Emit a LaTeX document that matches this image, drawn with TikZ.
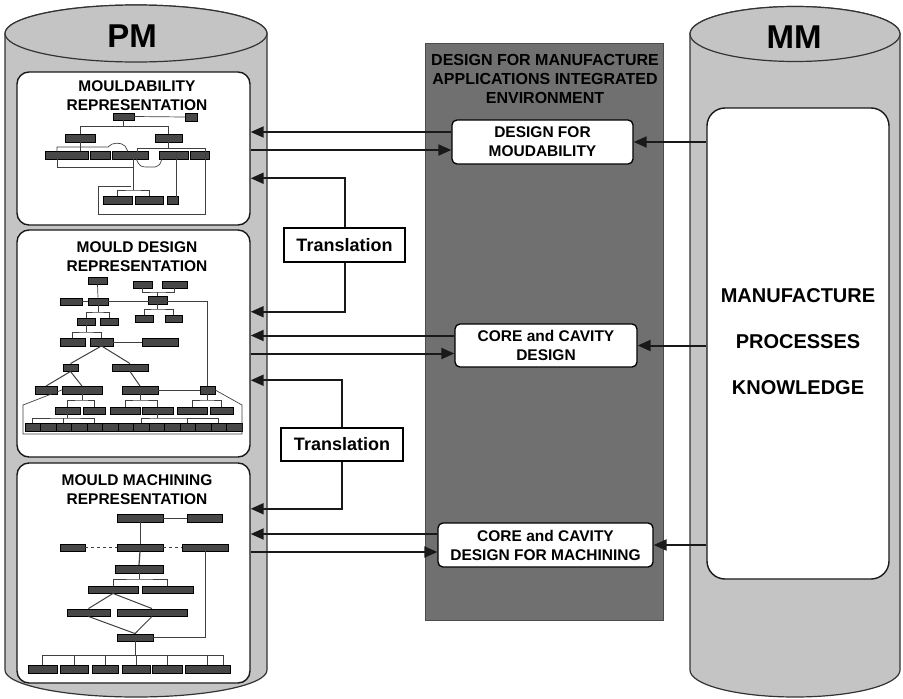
\documentclass[tikz,border=0pt]{standalone}
\usepackage{fontspec}
\setmainfont{Liberation Sans}
\usetikzlibrary{arrows.meta}
\definecolor{cylgray}{gray}{0.77}
\definecolor{panelgray}{gray}{0.44}
\newcommand\tbx[4]{\node[tb,minimum width=#4pt] (#1) at (#2,#3) {};}
\begin{document}
\begin{tikzpicture}[x=1pt,y=-1pt,
  cyl/.style={fill=cylgray,draw=black!80,line width=1.2pt},
  pmbox/.style={draw=black!90,fill=white,rounded corners=12pt,line width=1.4pt,inner sep=0pt},
  ttl/.style={font=\bfseries\fontsize{15.5}{19}\selectfont,align=center,inner sep=0pt},
  appbox/.style={draw=black,fill=white,rounded corners=5pt,line width=1.3pt,inner sep=0pt,font=\bfseries\fontsize{15.5}{19}\selectfont,align=center},
  trbox/.style={draw=black,fill=white,line width=1.5pt,inner sep=0pt,font=\bfseries\fontsize{18}{20}\selectfont},
  arr/.style={line width=2pt,draw=black!90,-{Triangle[length=13pt,width=11pt]}},
  tb/.style={fill=black!72,draw=black,line width=0.4pt,inner sep=0pt,minimum height=7.5pt},
  tl/.style={line width=0.7pt,draw=black!75},
]
\useasboundingbox[fill=white] (0,0) rectangle (903,699);

% ---------- PM cylinder ----------
\path[cyl] (5,33.5) -- (5,670) arc[start angle=180,end angle=360,x radius=131pt,y radius=27pt]
  -- (267,33.5) arc[start angle=0,end angle=180,x radius=131pt,y radius=28.5pt] -- cycle;
\draw[cyl] (136,33.5) ellipse[x radius=131pt,y radius=28.5pt];
\node[font=\bfseries\fontsize{33}{36}\selectfont,inner sep=0pt] (pm) at (132,36) {PM};

% ---------- MM cylinder ----------
\path[cyl] (690,34) -- (690,670) arc[start angle=180,end angle=360,x radius=105pt,y radius=27pt]
  -- (900,34) arc[start angle=0,end angle=180,x radius=105pt,y radius=27.5pt] -- cycle;
\draw[cyl] (795,34) ellipse[x radius=105pt,y radius=27.5pt];
\node[font=\bfseries\fontsize{33}{36}\selectfont,inner sep=0pt] (mm) at (794,37) {MM};
\node[draw=black!90,fill=white,rounded corners=18pt,line width=1.4pt,minimum width=182pt,minimum height=471pt,inner sep=0pt] (kb) at (798,343.5) {};
\node[font=\bfseries\fontsize{20}{46}\selectfont,align=center] (kbt) at (798,342) {MANUFACTURE\\PROCESSES\\KNOWLEDGE};

% ---------- central panel ----------
\node[fill=panelgray,draw=black!70,line width=0.8pt,minimum width=238pt,minimum height=577pt,inner sep=0pt] (panel) at (544,331.5) {};
\node[ttl,font=\bfseries\fontsize{16}{19}\selectfont] (ptitle) at (545,79) {DESIGN FOR MANUFACTURE\\APPLICATIONS INTEGRATED\\ENVIRONMENT};
\node[appbox,minimum width=181pt,minimum height=44pt] (dfm) at (542.5,142) {DESIGN FOR\\MOUDABILITY};
\node[appbox,minimum width=182pt,minimum height=43pt] (ccd) at (546,345.5) {CORE and CAVITY\\DESIGN};
\node[appbox,minimum width=215pt,minimum height=44pt] (ccm) at (545.5,545) {CORE and CAVITY\\DESIGN FOR MACHINING};

% ---------- PM boxes ----------
\node[pmbox,minimum width=233pt,minimum height=153pt] (mb) at (133.5,148.5) {};
\node[pmbox,minimum width=233pt,minimum height=227pt] (mdb) at (133.5,343.5) {};
\node[pmbox,minimum width=233pt,minimum height=220pt] (mmb) at (133.5,573) {};
\node[ttl] (mbt) at (137,95.5) {MOULDABILITY\\REPRESENTATION};
\node[ttl] (mdbt) at (137,257) {MOULD DESIGN\\REPRESENTATION};
\node[ttl] (mmbt) at (137,490) {MOULD MACHINING\\REPRESENTATION};

% ---------- mouldability tree ----------
\tbx{a0}{123.5}{116.5}{21}
\tbx{a1}{191}{117}{12}
\tbx{b1}{80}{138}{30}
\tbx{b2}{168.5}{138}{27}
\tbx{c1}{66.5}{155}{43}
\tbx{c2}{100}{155}{20}
\tbx{c3}{130}{155}{36}
\tbx{c4}{173.5}{155}{29}
\tbx{c5}{199.5}{155}{19}
\tbx{d1}{117.5}{200}{29}
\tbx{d2}{149}{200}{28}
\tbx{d3}{172.5}{200}{11}
\draw[tl] (a0.east) -- (a1.west);
\path (a0.south) ++(0,6) coordinate (aj);
\draw[tl] (b1.north) |- (aj) -| (b2.north);
\draw[tl] (a0.south) -- (aj);
\draw[tl] (b1.south) -- (b1.south |- c1.north);
\draw[tl] (57,151.5) -- (57,147) -- (108,147) .. controls (112,142) and (121,142) .. (125,146) -- (128,151.5);
\draw[tl] (57,158.5) -- (57,167) -- (133,167) -- (133,158.5);
\draw[tl] (136,158.5) .. controls (140,167) .. (150,167) -- (155,167) .. controls (160,165) .. (162,158.5);
\draw[tl] (b2.south) -- (168.5,148);
\draw[tl] (137,151.5) -- (137,148) -- (205,148) -- (205,214) -- (98,214) -- (98,186) -- (131,186);
\draw[tl] (176,151.5) -- (176,196.5);
\draw[tl] (133,158.5) -- (133,190);
\draw[tl] (d1.north) |- (133,190) -| (d2.north);

% ---------- mould design tree ----------
\tbx{ma}{97.5}{280.5}{19}
\tbx{mb1}{142.5}{284.5}{19}
\tbx{mb2}{174.5}{284.5}{25}
\tbx{mc0}{71}{301.5}{22}
\tbx{mc1}{98}{301.5}{20}
\tbx{mc2}{157.5}{300}{19}
\tbx{md1}{86}{321.5}{18}
\tbx{md2}{109}{321.5}{18}
\tbx{me1}{144}{318.5}{18}
\tbx{me2}{173.5}{318.5}{17}
\tbx{mf1}{72.5}{342}{25}
\tbx{mf2}{101.5}{342}{23}
\tbx{mf3}{160}{342}{36}
\tbx{mg1}{70.5}{367.5}{15}
\tbx{mg2}{130}{367.5}{36}
\tbx{mh1}{46}{390}{22}
\tbx{mh2}{82}{390}{40}
\tbx{mh3}{140}{390}{36}
\tbx{mh4}{207.5}{390}{15}
\tbx{mi1}{67.5}{410.5}{25}
\tbx{mi2}{94}{410.5}{22}
\tbx{mi3}{125}{410.5}{30}
\tbx{mi4}{157.5}{410.5}{31}
\tbx{mi5}{192}{410.5}{30}
\tbx{mi6}{221.5}{410.5}{23}
\foreach \i in {0,...,13} {\node[tb,minimum width=15.5pt,minimum height=8pt] (mr\i) at ({32.75+15.5*\i},427.5) {};}
\draw[tl] (ma.south) -- (mc1.north);
\draw[tl] (mc0.east) -- (mc1.west);
\draw[tl] (mc1.east) -| (mh4.north);
\draw[tl] (mb1.south) |- (157.5,292) -| (mb2.south);
\draw[tl] (mc2.north) -- (157.5,292);
\draw[tl] (mc1.south) -- (98,312);
\draw[tl] (md1.north) |- (98,312) -| (md2.north);
\draw[tl] (mc2.south) -- (157.5,309);
\draw[tl] (me1.north) |- (157.5,309) -| (me2.north);
\draw[tl] (md1.south) -- (86,332);
\draw[tl] (mf1.north) |- (86,332) -| (mf2.north);
\draw[tl] (mf2.east) -- (mf3.west);
\draw[tl,line width=1pt] (mf2.south) -- (mg1.north);
\draw[tl,line width=1pt] (mf2.south) -- (mg2.north);
\draw[tl,line width=1pt] (mg1.south) -- (mh1.north);
\draw[tl,line width=1pt] (mg1.south) -- (mh2.north);
\draw[tl,line width=1pt] (mg2.south) -- (mh3.north);
\draw[tl] (mh3.east) -- (mh4.west);
\draw[tl] (mh2.south) -- (82,400);
\draw[tl] (mi1.north) |- (82,400) -| (mi2.north);
\draw[tl] (mh3.south) -- (140,400);
\draw[tl] (mi3.north) |- (140,400) -| (mi4.north);
\draw[tl] (mh4.south) -- (207.5,400);
\draw[tl] (mi5.north) |- (207.5,400) -| (mi6.north);
\draw[tl] (mi1.south) -- (67.5,418);
\draw[tl] (mr0.north) |- (67.5,418) -| (mr4.north);
\draw[tl] (mr2.north) -- (mr2.north |- 0,418);
\draw[tl] (mi4.south) -- (157.5,418);
\draw[tl] (mr7.north) |- (157.5,418) -| (mr12.north);
\draw[tl] (mr10.north) -- (mr10.north |- 0,418);
\draw[tl] (mh2.west) -- (23,405) -- (23,434) -- (242,434) -- (242,405) -- (mh4.east);

% ---------- mould machining tree ----------
\tbx{n1}{140}{518}{46}
\tbx{n2}{204.5}{518}{35}
\tbx{n3}{72.5}{547.5}{25}
\tbx{n4}{140}{547.5}{46}
\tbx{n5}{205}{547.5}{46}
\tbx{n6}{139}{569}{48}
\tbx{n7}{113}{589.5}{50}
\tbx{n8}{167.5}{589.5}{51}
\tbx{n9}{88.5}{612.5}{43}
\tbx{n10}{152}{612.5}{70}
\tbx{n11}{135}{637.5}{36}
\tbx{q1}{42.5}{669}{29}
\tbx{q2}{74}{669}{28}
\tbx{q3}{105}{669}{26}
\tbx{q4}{136}{669}{28}
\tbx{q5}{167}{669}{30}
\tbx{q6}{207.5}{669}{45}
\draw[tl] (n1.east) -- (n2.west);
\draw[tl,line width=1pt] (n1.south) -- (n4.north);
\draw[tl,dashed] (n3.east) -- (n4.west);
\draw[tl,dashed] (n4.east) -- (n5.west);
\draw[tl,line width=1.2pt] (n4.south) -- (n6.north);
\draw[tl] (n6.south) -- (139,579);
\draw[tl] (n7.north) |- (139,579) -| (n8.north);
\draw[tl,line width=1pt] (n7.south) -- (n9.north);
\draw[tl,line width=1pt] (n7.south) -- (n10.north);
\draw[tl,line width=1pt] (n9.south) -- (n11.north);
\draw[tl,line width=1pt] (n10.south) -- (n11.north);
\draw[tl] (n11.east) -| (n5.south);
\draw[tl,line width=1pt] (n11.south) -- (135,655);
\draw[tl] (43,655) -- (223,655) -- (223,665);
\foreach \q in {q1,q2,q3,q4,q5,q6} {\draw[tl] (\q.north) -- (\q.north |- 0,655);}

% ---------- translation boxes ----------
\node[trbox,minimum width=121pt,minimum height=34pt] (tr1) at (344.5,245) {Translation};
\node[trbox,minimum width=122pt,minimum height=33pt] (tr2) at (342,444.5) {Translation};
\path (tr1.north) ++(0,-49) coordinate (t1u);
\path (tr1.south) ++(0,49) coordinate (t1d);
\path (tr2.north) ++(0,-47) coordinate (t2u);
\path (tr2.south) ++(0,47) coordinate (t2d);
\draw[arr] (tr1.north) -- (t1u) -- (t1u -| mb.east);
\draw[arr] (tr1.south) -- (t1d) -- (t1d -| mdb.east);
\draw[arr] (tr2.north) -- (t2u) -- (t2u -| mdb.east);
\draw[arr] (tr2.south) -- (t2d) -- (t2d -| mmb.east);

% ---------- PM <-> applications ----------
\draw[arr] ([yshift=10pt]dfm.west) -- ([yshift=10pt]dfm.west -| mb.east);
\draw[arr] ([yshift=-8pt]dfm.west -| mb.east) -- ([yshift=-8pt]dfm.west);
\draw[arr] ([yshift=10pt]ccd.west) -- ([yshift=10pt]ccd.west -| mdb.east);
\draw[arr] ([yshift=-8pt]ccd.west -| mdb.east) -- ([yshift=-8pt]ccd.west);
\draw[arr] ([yshift=11pt]ccm.west) -- ([yshift=11pt]ccm.west -| mmb.east);
\draw[arr] ([yshift=-7pt]ccm.west -| mmb.east) -- ([yshift=-7pt]ccm.west);

% ---------- MM -> applications ----------
\draw[arr] (kb.west |- dfm.east) -- (dfm.east);
\draw[arr] (kb.west |- ccd.east) -- (ccd.east);
\draw[arr] (kb.west |- ccm.east) -- (ccm.east);
\end{tikzpicture}
\end{document}
